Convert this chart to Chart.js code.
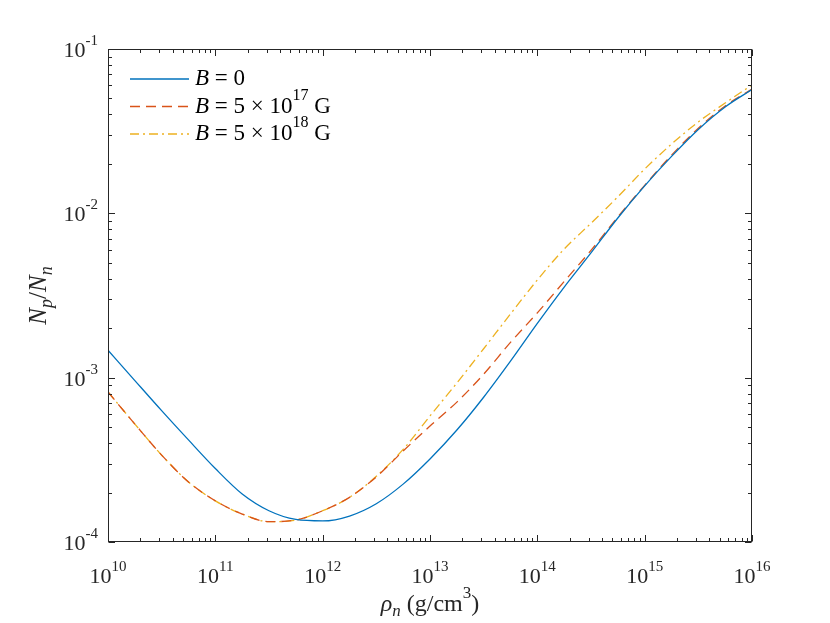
<!DOCTYPE html>
<html><head><meta charset="utf-8">
<script src="https://cdn.jsdelivr.net/npm/chart.js@4/dist/chart.umd.min.js"></script>
<style>html,body{margin:0;padding:0;background:#fff;}#wrap{width:830px;height:623px;}</style>
</head><body><div id="wrap"><canvas id="c" width="830" height="623"></canvas></div>
<script>
// neutron density rho_n (g/cm^3)
const rhoN = [1.00e10, 1.78e10, 3.16e10, 5.62e10, 1.00e11, 1.78e11, 3.16e11, 5.62e11, 1.00e12, 1.78e12, 3.16e12, 5.62e12,
              1.00e13, 1.78e13, 3.16e13, 5.62e13, 1.00e14, 1.78e14, 3.16e14, 5.62e14, 1.00e15, 1.78e15, 3.16e15, 5.62e15, 1.00e16];
// Np/Nn for B = 0
const ratioB0 = [1.47e-3, 9.6e-4, 6.3e-4, 4.18e-4, 2.80e-4, 1.96e-4, 1.55e-4, 1.371e-4, 1.343e-4, 1.439e-4, 1.71e-4, 2.25e-4,
                 3.20e-4, 4.80e-4, 7.60e-4, 1.26e-3, 2.14e-3, 3.56e-3, 5.74e-3, 9.37e-3, 1.47e-2, 2.22e-2, 3.24e-2, 4.44e-2, 5.67e-2];
// Np/Nn for B = 5e17 G
const ratioB17 = [8.18e-4, 5.22e-4, 3.38e-4, 2.32e-4, 1.78e-4, 1.48e-4, 1.33e-4, 1.36e-4, 1.55e-4, 1.87e-4, 2.49e-4, 3.58e-4,
                  5.08e-4, 7.10e-4, 1.05e-3, 1.64e-3, 2.48e-3, 3.85e-3, 5.95e-3, 9.50e-3, 1.48e-2, 2.26e-2, 3.29e-2, 4.50e-2, 5.70e-2];
// Np/Nn for B = 5e18 G
const ratioB18 = [8.18e-4, 5.22e-4, 3.38e-4, 2.32e-4, 1.78e-4, 1.48e-4, 1.33e-4, 1.36e-4, 1.55e-4, 1.87e-4, 2.51e-4, 3.66e-4,
                  5.85e-4, 9.28e-4, 1.50e-3, 2.44e-3, 3.93e-3, 6.07e-3, 8.70e-3, 1.26e-2, 1.86e-2, 2.64e-2, 3.60e-2, 4.69e-2, 6.04e-2];

const seriesNames = ['B = 0', 'B = 5 × 10^17 G', 'B = 5 × 10^18 G'];
const xTickValues = [1e10, 1e11, 1e12, 1e13, 1e14, 1e15, 1e16];
const xTickLabels = ['10^10', '10^11', '10^12', '10^13', '10^14', '10^15', '10^16'];
const yTickValues = [1e-4, 1e-3, 1e-2, 1e-1];
const yTickLabels = ['10^-4', '10^-3', '10^-2', '10^-1'];
const xTitle = 'ρ_n (g/cm^3)';
const yTitle = 'N_p/N_n';

const toPts = (ys) => rhoN.map((x, i) => ({x: x, y: ys[i]}));
const AX = '#262626';
const SERIF = "'Liberation Serif', 'DejaVu Serif', serif";

function fontStr(s) { return (s.it ? 'italic ' : '') + s.size + 'px ' + SERIF; }
// parse "a^12 b_n" into segments with sup/sub
function parseRich(str, size, small, opts) {
  opts = opts || {};
  const segs = [];
  const re = /(\^-?\d+|_[a-z])/g;
  let last = 0, m;
  while ((m = re.exec(str)) !== null) {
    if (m.index > last) segs.push({t: str.slice(last, m.index), size: size});
    const tok = m[0];
    if (tok[0] === '^') segs.push({t: tok.slice(1), size: small, dy: -Math.round(size * 0.55)});
    else segs.push({t: tok.slice(1), size: small, dy: Math.round(size * 0.22), it: true});
    last = re.lastIndex;
  }
  if (last < str.length) segs.push({t: str.slice(last), size: size});
  const out = [];
  segs.forEach(s => {
    if (s.size === size && opts.italicLetters) {
      const parts = s.t.split(/([BNρ])/);
      parts.forEach(p => { if (p) out.push({t: p, size: s.size, dy: s.dy, it: /^[BNρ]$/.test(p)}); });
    } else out.push(s);
  });
  return out;
}
function drawRich(ctx, segs, x, y, align) {
  let w = 0;
  segs.forEach(s => { ctx.font = fontStr(s); s.w = ctx.measureText(s.t).width; w += s.w; });
  let cx = align === 'center' ? x - w / 2 : (align === 'right' ? x - w : x);
  ctx.textAlign = 'left'; ctx.textBaseline = 'alphabetic';
  segs.forEach(s => { ctx.font = fontStr(s); ctx.fillText(s.t, cx, y + (s.dy || 0)); cx += s.w; });
  return w;
}

const decor = {
  id: 'decor',
  afterDatasetsDraw(chart) {
    const {ctx, chartArea: {left, right, top, bottom}, scales: {x, y}} = chart;
    const L = Math.round(left) + 0.5, R = Math.round(right) - 0.5, T = Math.round(top) + 0.5, B = Math.round(bottom) - 0.5;
    ctx.save();
    ctx.strokeStyle = AX; ctx.lineWidth = 1; ctx.setLineDash([]);
    ctx.strokeRect(L, T, R - L, B - T);
    ctx.beginPath();
    const major = 6.5, minor = 3.5;
    xTickValues.forEach(base => {
      for (let m = 1; m < 10; m++) {
        const v = base * m;
        if (v > x.max * 1.0001) break;
        const px = Math.round(x.getPixelForValue(v)) + 0.5;
        const len = m === 1 ? major : minor;
        ctx.moveTo(px, B); ctx.lineTo(px, B - len);
        ctx.moveTo(px, T); ctx.lineTo(px, T + len);
      }
    });
    yTickValues.forEach(base => {
      for (let m = 1; m < 10; m++) {
        const v = base * m;
        if (v > y.max * 1.0001) break;
        const py = Math.round(y.getPixelForValue(v)) + 0.5;
        const len = m === 1 ? major : minor;
        ctx.moveTo(L, py); ctx.lineTo(L + len, py);
        ctx.moveTo(R, py); ctx.lineTo(R - len, py);
      }
    });
    ctx.stroke();

    ctx.fillStyle = AX;
    xTickValues.forEach((v, i) => {
      drawRich(ctx, parseRich(xTickLabels[i], 22, 15), x.getPixelForValue(v), bottom + 41, 'center');
    });
    yTickValues.forEach((v, i) => {
      drawRich(ctx, parseRich(yTickLabels[i], 22, 15), left - 10, y.getPixelForValue(v) + 8, 'right');
    });

    drawRich(ctx, parseRich(xTitle, 24, 17, {italicLetters: true}), (left + right) / 2, bottom + 69, 'center');
    ctx.save();
    ctx.translate(46, (top + bottom) / 2);
    ctx.rotate(-Math.PI / 2);
    drawRich(ctx, parseRich(yTitle, 25, 18, {italicLetters: true}), 0, 0, 'center');
    ctx.restore();

    const ds = chart.data.datasets;
    ds.forEach((d, i) => {
      const base = top + 36 + i * 27.5;
      ctx.save();
      ctx.strokeStyle = d.borderColor; ctx.lineWidth = d.borderWidth;
      ctx.setLineDash(d.borderDash || []);
      ctx.beginPath(); ctx.moveTo(left + 22, base - 6); ctx.lineTo(left + 81, base - 6); ctx.stroke();
      ctx.restore();
      ctx.fillStyle = '#000';
      drawRich(ctx, parseRich(d.label, 23, 16, {italicLetters: true}), left + 87, base, 'left');
    });
    ctx.restore();
  }
};

new Chart(document.getElementById('c'), {
  type: 'line',
  data: {
    datasets: [
      {label: seriesNames[0], data: toPts(ratioB0), borderColor: '#0072BD', backgroundColor: '#0072BD', borderWidth: 1.3, borderDash: []},
      {label: seriesNames[1], data: toPts(ratioB17), borderColor: '#D95319', backgroundColor: '#D95319', borderWidth: 1.3, borderDash: [10, 6]},
      {label: seriesNames[2], data: toPts(ratioB18), borderColor: '#EDB120', backgroundColor: '#EDB120', borderWidth: 1.3, borderDash: [9, 4, 2, 4]}
    ]
  },
  options: {
    responsive: false,
    animation: false,
    elements: {point: {radius: 0}, line: {cubicInterpolationMode: 'monotone', fill: false}},
    layout: {padding: {left: 0, right: 78, top: 49, bottom: 0}},
    plugins: {tooltip: {enabled: false}, legend: {display: false}},
    scales: {
      x: {
        type: 'logarithmic', position: 'bottom', min: 1e10, max: 1e16,
        afterBuildTicks: (s) => { s.ticks = xTickValues.map(v => ({value: v})); },
        afterFit: (s) => { s.height = 81; },
        grid: {display: false, drawTicks: false},
        border: {display: false},
        ticks: {display: false}
      },
      y: {
        type: 'logarithmic', position: 'left', min: 1e-4, max: 1e-1,
        afterBuildTicks: (s) => { s.ticks = yTickValues.map(v => ({value: v})); },
        afterFit: (s) => { s.width = 108; },
        grid: {display: false, drawTicks: false},
        border: {display: false},
        ticks: {display: false}
      }
    }
  },
  plugins: [decor]
});
</script>
</body></html>
